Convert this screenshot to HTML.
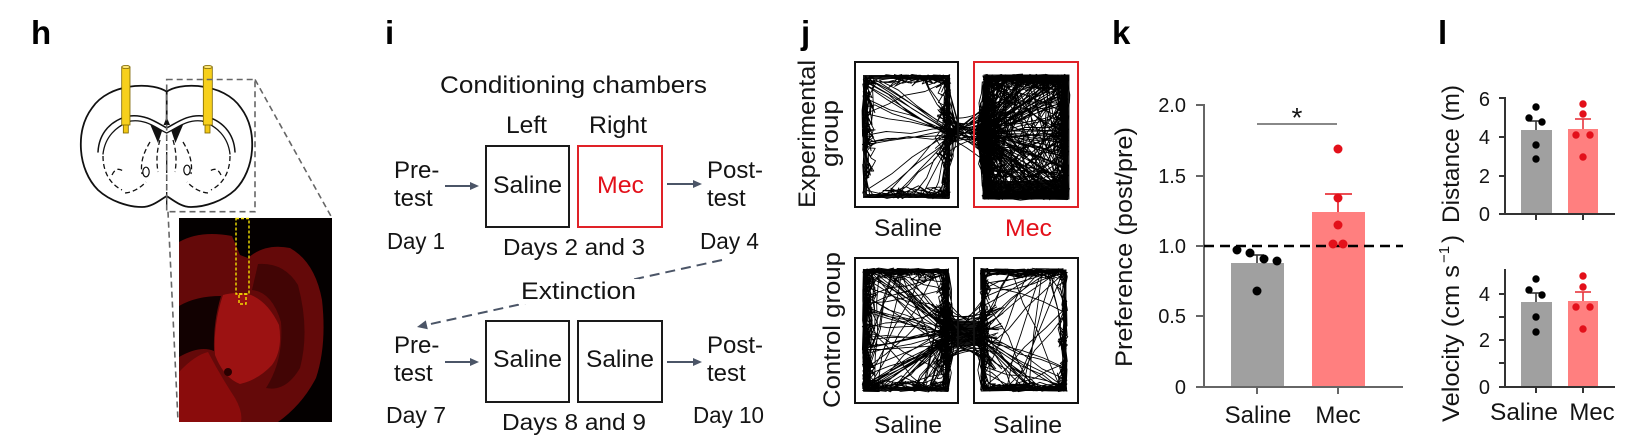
<!DOCTYPE html>
<html><head><meta charset="utf-8">
<style>
html,body{margin:0;padding:0;background:#fff;}
svg{display:block;}
text{font-family:"Liberation Sans",Arial,sans-serif;fill:#141414;}
.b{font-weight:bold;font-size:33px;fill:#000;}
.m{font-size:24px;}
.d{font-size:23px;}
.tk{font-size:20px;}
.red{fill:#e3101a;}
</style></head>
<body>
<svg id="s" width="1634" height="440" viewBox="0 0 1634 440" xmlns="http://www.w3.org/2000/svg">
<rect width="1634" height="440" fill="#fff"/>

<!-- ============ PANEL H ============ -->
<text class="b" x="31" y="44">h</text>
<g fill="none" stroke="#111" stroke-width="1.8" stroke-linecap="round">
<path d="M166.7,91.7 C160,87 148,85 135,86 C115,88 100,96 92,108 C83,120 80,135 81,150 C82,165 88,180 98,190 C110,201 128,207 142,207 C152,207 160,200 166.7,196 C173,200 181,207 191,207 C205,207 223,201 235,190 C245,180 251,165 252,150 C253,135 250,120 241,108 C233,96 218,88 198,86 C185,85 173,87 166.7,91.7 Z"/>
<path d="M166.7,92 L166.7,122"/>
<path d="M98,152 C99,133 111,120 129,116 C145,114 156,122 166.7,128 C178,122 188,114 204,116 C222,120 234,133 235,152" stroke-width="1.5"/>
<path d="M103,154 C105,137 116,126 131,121 C146,119 156,128 166.7,133 C177,128 187,119 202,121 C217,126 228,137 230,154" stroke-width="1.3"/>
</g>
<path d="M163.5,125 L170,125 L166.7,117 Z" fill="#111"/>
<path d="M150,124 L162,131 L158,143 Z" fill="#111"/>
<path d="M183.4,124 L171.4,131 L175.4,143 Z" fill="#111"/>
<g fill="none" stroke="#111" stroke-width="1.3" stroke-dasharray="5 3">
<path d="M103,156 C103,172 110,184 122,190"/>
<path d="M230,156 C230,172 223,184 211,190"/>
<path d="M150,142 C144,152 140,162 142,174"/>
<path d="M183,142 C189,152 193,162 191,174"/>
<path d="M125,193 C135,192 142,186 146,182"/>
<path d="M208,193 C198,192 191,186 187,182"/>
<path d="M160,140 C157,150 156,160 158,172"/>
<path d="M173,140 C176,150 177,160 175,172"/>
<path d="M166.7,136 L166.7,206"/>
<path d="M112,175 C115,168 120,168 124,172"/>
<path d="M221,175 C218,168 213,168 209,172"/>
</g>
<ellipse cx="146" cy="172" rx="3.2" ry="4.8" fill="none" stroke="#111" stroke-width="1.2"/>
<ellipse cx="187" cy="170" rx="3.2" ry="4.8" fill="none" stroke="#111" stroke-width="1.2"/>
<g stroke="#7a6300" stroke-width="0.8">
<rect x="123.3" y="124" width="5" height="9" fill="#f2c814"/>
<rect x="121.7" y="67" width="8.3" height="58" fill="#f7d01c"/>
<ellipse cx="125.85" cy="67" rx="4.15" ry="1.6" fill="#fde574"/>
<rect x="205" y="124" width="5" height="9" fill="#f2c814"/>
<rect x="203.3" y="67" width="9" height="58" fill="#f7d01c"/>
<ellipse cx="207.8" cy="67" rx="4.5" ry="1.6" fill="#fde574"/>
</g>
<g fill="none" stroke="#666" stroke-width="1.6" stroke-dasharray="6 4">
<path d="M166.7,79.5 L255,79.5 L255,211.7 L166.7,211.7 Z"/>
<path d="M255,79.5 L332,218"/>
<path d="M168,211.7 L178,421"/>
</g>
<!-- photo -->
<rect x="179" y="218" width="153" height="204" fill="#040000"/>
<path d="M179,242 Q200,230 232,236 L240,255 L248,258 Q265,243 290,248 Q315,262 322,300 Q327,345 316,378 Q302,405 278,422 L179,422 Z" fill="#640909"/>
<path d="M179,306 Q196,296 221,296 Q213,322 214,351 Q200,345 179,357 Z" fill="#120101"/>
<path d="M258,264 Q284,262 298,285 Q310,330 300,368 Q286,392 266,388 Q284,360 281,322 Q272,292 252,290 Z" fill="#420505"/>
<path d="M223,295 Q238,291 251,295 Q268,302 279,325 Q283,350 272,365 Q258,380 240,384 Q224,378 215,355 Q213,325 223,295 Z" fill="#9c1212"/>
<path d="M179,372 Q195,355 208,352 Q220,375 235,398 Q243,412 241,422 L179,422 Z" fill="#8a0c0c"/>
<circle cx="228" cy="372" r="4" fill="#2a0000"/>
<g fill="none" stroke="#f3e000" stroke-width="1.4" stroke-dasharray="3 2">
<rect x="236" y="218.5" width="13" height="75.5"/>
<rect x="239" y="294" width="7" height="10"/>
</g>

<!-- ============ PANEL I ============ -->
<text class="b" x="385" y="44">i</text>
<text class="m" x="440" y="93" textLength="267" lengthAdjust="spacingAndGlyphs">Conditioning chambers</text>
<text class="m" x="506" y="133" textLength="41" lengthAdjust="spacingAndGlyphs">Left</text>
<text class="m" x="589" y="133" textLength="58" lengthAdjust="spacingAndGlyphs">Right</text>
<rect x="486" y="146" width="83" height="81" fill="none" stroke="#1a1a1a" stroke-width="2"/>
<rect x="578" y="146" width="84" height="81" fill="none" stroke="#e02228" stroke-width="2"/>
<text class="m" x="493" y="193" textLength="69" lengthAdjust="spacingAndGlyphs">Saline</text>
<text class="m red" x="597" y="193" textLength="47" lengthAdjust="spacingAndGlyphs">Mec</text>
<text class="m" x="394" y="178">Pre-</text>
<text class="m" x="394" y="206">test</text>
<text class="m" x="707" y="178">Post-</text>
<text class="m" x="707" y="206">test</text>
<text class="d" x="387" y="249" textLength="58" lengthAdjust="spacingAndGlyphs">Day 1</text>
<text class="d" x="503" y="255" textLength="142" lengthAdjust="spacingAndGlyphs">Days 2 and 3</text>
<text class="d" x="700" y="249" textLength="59" lengthAdjust="spacingAndGlyphs">Day 4</text>
<g stroke="#4b5567" stroke-width="2" fill="#4b5567">
<line x1="445" y1="186" x2="472" y2="186"/><polygon points="479,186 470,182 470,190" stroke="none"/>
<line x1="667" y1="184" x2="695" y2="184"/><polygon points="702,184 693,180 693,188" stroke="none"/>
<line x1="445" y1="362" x2="472" y2="362"/><polygon points="479,362 470,358 470,366" stroke="none"/>
<line x1="667" y1="362" x2="695" y2="362"/><polygon points="702,362 693,358 693,366" stroke="none"/>
<line x1="722" y1="260" x2="426" y2="325" stroke-dasharray="10 6"/>
<polygon points="417,327 427.8,329.3 425.8,320.4" stroke="none"/>
</g>
<rect x="518" y="279" width="121" height="25" fill="#fff"/>
<text class="m" x="521" y="299" textLength="115" lengthAdjust="spacingAndGlyphs">Extinction</text>
<rect x="486" y="321" width="83" height="81" fill="none" stroke="#1a1a1a" stroke-width="2"/>
<rect x="578" y="321" width="84" height="81" fill="none" stroke="#1a1a1a" stroke-width="2"/>
<text class="m" x="493" y="367" textLength="69" lengthAdjust="spacingAndGlyphs">Saline</text>
<text class="m" x="586" y="367" textLength="68" lengthAdjust="spacingAndGlyphs">Saline</text>
<text class="m" x="394" y="353">Pre-</text>
<text class="m" x="394" y="381">test</text>
<text class="m" x="707" y="353">Post-</text>
<text class="m" x="707" y="381">test</text>
<text class="d" x="386" y="423" textLength="60" lengthAdjust="spacingAndGlyphs">Day 7</text>
<text class="d" x="502" y="430" textLength="144" lengthAdjust="spacingAndGlyphs">Days 8 and 9</text>
<text class="d" x="693" y="423" textLength="71" lengthAdjust="spacingAndGlyphs">Day 10</text>

<!-- ============ PANEL J ============ -->
<text class="b" x="801" y="44">j</text>
<text class="m" transform="translate(815,208) rotate(-90)" textLength="148" lengthAdjust="spacingAndGlyphs">Experimental</text>
<text class="m" transform="translate(838,167) rotate(-90)" textLength="67" lengthAdjust="spacingAndGlyphs">group</text>
<text class="m" transform="translate(840,408) rotate(-90)" textLength="156" lengthAdjust="spacingAndGlyphs">Control group</text>
<g fill="none" stroke="#1c1c1c">
<rect x="865" y="77" width="83" height="119" stroke-width="4"/>
<rect x="987" y="78" width="79" height="118" stroke-width="7"/>
<rect x="865" y="271" width="82" height="118" stroke-width="4"/>
<rect x="984" y="271" width="81" height="118" stroke-width="3"/>
</g>
<rect x="986" y="181" width="80" height="17" fill="#111"/>
<rect x="951" y="321" width="31" height="25" fill="#151515"/>
<g id="traj"></g>
<rect x="855" y="62" width="103" height="145" fill="none" stroke="#111" stroke-width="2"/>
<rect x="974" y="62" width="104" height="145" fill="none" stroke="#e02228" stroke-width="2"/>
<rect x="855" y="258" width="103" height="145" fill="none" stroke="#111" stroke-width="2"/>
<rect x="974" y="258" width="104" height="145" fill="none" stroke="#111" stroke-width="2"/>
<text class="m" x="874" y="236" textLength="68" lengthAdjust="spacingAndGlyphs">Saline</text>
<text class="m red" x="1005" y="236" textLength="47" lengthAdjust="spacingAndGlyphs">Mec</text>
<text class="m" x="874" y="433" textLength="68" lengthAdjust="spacingAndGlyphs">Saline</text>
<text class="m" x="993" y="433" textLength="69" lengthAdjust="spacingAndGlyphs">Saline</text>

<!-- ============ PANEL K ============ -->
<text class="b" x="1112" y="44">k</text>
<text class="m" transform="translate(1132,367) rotate(-90)" textLength="240" lengthAdjust="spacingAndGlyphs">Preference (post/pre)</text>
<rect x="1231" y="263" width="53" height="124" fill="#a0a0a0"/>
<rect x="1312" y="212" width="53" height="175" fill="#ff7f7f"/>
<g stroke="#666" stroke-width="2">
<line x1="1204" y1="104" x2="1204" y2="388"/>
<line x1="1196" y1="387" x2="1403" y2="387"/>
<line x1="1196" y1="105" x2="1204" y2="105"/>
<line x1="1196" y1="176" x2="1204" y2="176"/>
<line x1="1196" y1="246" x2="1204" y2="246"/>
<line x1="1196" y1="316" x2="1204" y2="316"/>
<line x1="1257" y1="387" x2="1257" y2="394"/>
<line x1="1338" y1="387" x2="1338" y2="394"/>
</g>
<text class="tk" x="1186" y="112" text-anchor="end">2.0</text>
<text class="tk" x="1186" y="183" text-anchor="end">1.5</text>
<text class="tk" x="1186" y="253" text-anchor="end">1.0</text>
<text class="tk" x="1186" y="323" text-anchor="end">0.5</text>
<text class="tk" x="1186" y="394" text-anchor="end">0</text>
<line x1="1257" y1="124" x2="1337" y2="124" stroke="#888" stroke-width="2"/>
<text x="1297" y="127" text-anchor="middle" style="font-size:28px">*</text>
<g stroke="#333" stroke-width="1.6"><line x1="1257" y1="263" x2="1257" y2="255"/><line x1="1250" y1="255" x2="1264" y2="255"/></g>
<g stroke="#e8343c" stroke-width="1.8"><line x1="1338" y1="212" x2="1338" y2="194"/><line x1="1325" y1="194" x2="1352" y2="194"/></g>
<line x1="1204" y1="246" x2="1403" y2="246" stroke="#000" stroke-width="2.5" stroke-dasharray="10 6"/>
<g fill="#000">
<circle cx="1237" cy="250" r="4.5"/><circle cx="1250" cy="253" r="4.5"/><circle cx="1264" cy="259" r="4.5"/><circle cx="1277" cy="261" r="4.5"/><circle cx="1257" cy="291" r="4.5"/>
</g>
<g fill="#e3101a">
<circle cx="1338" cy="149" r="4.5"/><circle cx="1338" cy="198" r="4.5"/><circle cx="1338" cy="225" r="4.5"/><circle cx="1333" cy="244" r="4.5"/><circle cx="1343" cy="244" r="4.5"/>
</g>
<text class="m" x="1258" y="423" text-anchor="middle">Saline</text>
<text class="m" x="1338" y="423" text-anchor="middle">Mec</text>

<!-- ============ PANEL L ============ -->
<text class="b" x="1438" y="44">l</text>
<text class="m" transform="translate(1459,223) rotate(-90)" textLength="138" lengthAdjust="spacingAndGlyphs">Distance (m)</text>
<g transform="translate(1459,422) rotate(-90)">
<text class="m" x="0" y="0" textLength="157" lengthAdjust="spacingAndGlyphs">Velocity (cm s</text>
<text x="159" y="-10" style="font-size:15px">−1</text>
<text class="m" x="179" y="0">)</text>
</g>
<rect x="1521" y="130" width="31" height="84" fill="#a0a0a0"/>
<rect x="1568" y="129" width="30" height="85" fill="#ff7f7f"/>
<rect x="1521" y="302" width="31" height="85" fill="#a0a0a0"/>
<rect x="1568" y="301" width="30" height="86" fill="#ff7f7f"/>
<g stroke="#333" stroke-width="2">
<line x1="1505" y1="97" x2="1505" y2="215"/>
<line x1="1499" y1="214" x2="1615" y2="214"/>
<line x1="1499" y1="98" x2="1505" y2="98"/>
<line x1="1499" y1="137" x2="1505" y2="137"/>
<line x1="1499" y1="176" x2="1505" y2="176"/>
<line x1="1536" y1="214" x2="1536" y2="220"/>
<line x1="1583" y1="214" x2="1583" y2="220"/>
<line x1="1505" y1="269" x2="1505" y2="388"/>
<line x1="1499" y1="387" x2="1615" y2="387"/>
<line x1="1499" y1="294" x2="1505" y2="294"/>
<line x1="1499" y1="317" x2="1505" y2="317"/>
<line x1="1499" y1="340" x2="1505" y2="340"/>
<line x1="1499" y1="363" x2="1505" y2="363"/>
<line x1="1536" y1="387" x2="1536" y2="393"/>
<line x1="1583" y1="387" x2="1583" y2="393"/>
</g>
<text class="tk" x="1490" y="106" text-anchor="end">6</text>
<text class="tk" x="1490" y="144" text-anchor="end">4</text>
<text class="tk" x="1490" y="183" text-anchor="end">2</text>
<text class="tk" x="1490" y="221" text-anchor="end">0</text>
<text class="tk" x="1490" y="301" text-anchor="end">4</text>
<text class="tk" x="1490" y="347" text-anchor="end">2</text>
<text class="tk" x="1490" y="394" text-anchor="end">0</text>
<g stroke="#333" stroke-width="1.6">
<line x1="1536" y1="130" x2="1536" y2="121"/><line x1="1530" y1="121" x2="1542" y2="121"/>
<line x1="1536" y1="302" x2="1536" y2="293"/><line x1="1530" y1="293" x2="1542" y2="293"/>
</g>
<g stroke="#e8343c" stroke-width="1.6">
<line x1="1583" y1="129" x2="1583" y2="119"/><line x1="1575" y1="119" x2="1591" y2="119"/>
<line x1="1583" y1="301" x2="1583" y2="292"/><line x1="1575" y1="292" x2="1591" y2="292"/>
</g>
<g fill="#000">
<circle cx="1536" cy="107" r="3.7"/><circle cx="1529" cy="118" r="3.7"/><circle cx="1542" cy="122" r="3.7"/><circle cx="1536" cy="145" r="3.7"/><circle cx="1536" cy="159" r="3.7"/>
<circle cx="1536" cy="279" r="3.7"/><circle cx="1529" cy="290" r="3.7"/><circle cx="1542" cy="295" r="3.7"/><circle cx="1536" cy="317" r="3.7"/><circle cx="1536" cy="332" r="3.7"/>
</g>
<g fill="#e3101a">
<circle cx="1583" cy="104" r="3.7"/><circle cx="1583" cy="114" r="3.7"/><circle cx="1576" cy="135" r="3.7"/><circle cx="1590" cy="135" r="3.7"/><circle cx="1583" cy="157" r="3.7"/>
<circle cx="1583" cy="276" r="3.7"/><circle cx="1583" cy="287" r="3.7"/><circle cx="1576" cy="307" r="3.7"/><circle cx="1590" cy="307" r="3.7"/><circle cx="1583" cy="329" r="3.7"/>
</g>
<text class="m" x="1524" y="420" text-anchor="middle" textLength="68" lengthAdjust="spacingAndGlyphs">Saline</text>
<text class="m" x="1592" y="420" text-anchor="middle">Mec</text>
</svg>
<script>
(function(){
var NS='http://www.w3.org/2000/svg';
var g=document.getElementById('traj');
function R(s){return function(){s|=0;s=s+0x6D2B79F5|0;var t=Math.imul(s^s>>>15,1|s);t=t+Math.imul(t^t>>>7,61|t)^t;return((t^t>>>14)>>>0)/4294967296;};}
function perim(x0,y0,x1,y1,t,off){var w=x1-x0,h=y1-y0,P=2*(w+h);t=((t%P)+P)%P;
 if(t<w)return[x0+t,y0+off];t-=w;if(t<h)return[x1-off,y0+t];t-=h;if(t<w)return[x1-t,y1-off];t-=w;return[x0+off,y1-t];}
function add(d,w){var p=document.createElementNS(NS,'path');p.setAttribute('d',d);p.setAttribute('fill','none');p.setAttribute('stroke','#000');p.setAttribute('stroke-width',w);p.setAttribute('stroke-linejoin','round');g.appendChild(p);}
function f1(v){return v.toFixed(1);}
function box(x0,y0,x1,y1,n,pe,seed,cx,cy,pc,offmax,sw){
 var r=R(seed);var w=x1-x0,h=y1-y0,P=2*(w+h);var t=r()*P;var pt=perim(x0,y0,x1,y1,t,2);
 var d='M'+f1(pt[0])+' '+f1(pt[1]);
 function wig(tx,ty){var sx=pt[0],sy=pt[1];
   for(var k=1;k<=4;k++){var f=k/4;var jx=(k<4)?(r()-0.5)*5:0,jy=(k<4)?(r()-0.5)*5:0;
    d+='L'+f1(sx+(tx-sx)*f+jx)+' '+f1(sy+(ty-sy)*f+jy);}
   pt=[tx,ty];}
 for(var i=0;i<n;i++){
  if(r()<pe){t+=(r()-0.5)*50;var q=perim(x0,y0,x1,y1,t,r()*r()*offmax);
   d+='L'+f1(q[0]+(r()-0.5)*2)+' '+f1(q[1]+(r()-0.5)*2);pt=q;}
  else{
   if(r()<pc){wig(cx+(r()-0.5)*6,cy+(r()-0.5)*12);}
   t=r()*P;var q2=perim(x0,y0,x1,y1,t,r()*5);wig(q2[0],q2[1]);
  }
 }
 add(d,sw);
}
box(863,75,950,198,520,0.94,11,956,133,0.6,15,0.9);
box(983,75,1068,199,1500,0.86,23,979,133,0.25,20,0.95);
box(863,269,949,391,900,0.9,37,953,333,0.3,15,0.9);
box(981,269,1067,391,650,0.92,41,978,333,0.3,12,0.9);
var r=R(77),d='';
for(var i=0;i<35;i++){
 var ax=935+r()*15,ay=105+r()*55,mx=962+(r()-0.5)*10,my=127+r()*12,bx=985+r()*20,by=100+r()*70;
 d+='M'+f1(ax)+' '+f1(ay)+'Q'+f1(mx)+' '+f1(my)+' '+f1(bx)+' '+f1(by);
}
for(var i=0;i<45;i++){
 var ax=930+r()*20,ay=300+r()*65,mx=966+(r()-0.5)*20,my=322+r()*24,bx=982+r()*22,by=295+r()*75;
 d+='M'+f1(ax)+' '+f1(ay)+'Q'+f1(mx)+' '+f1(my)+' '+f1(bx)+' '+f1(by);
}
add(d,0.9);
})();
</script>
</body></html>
